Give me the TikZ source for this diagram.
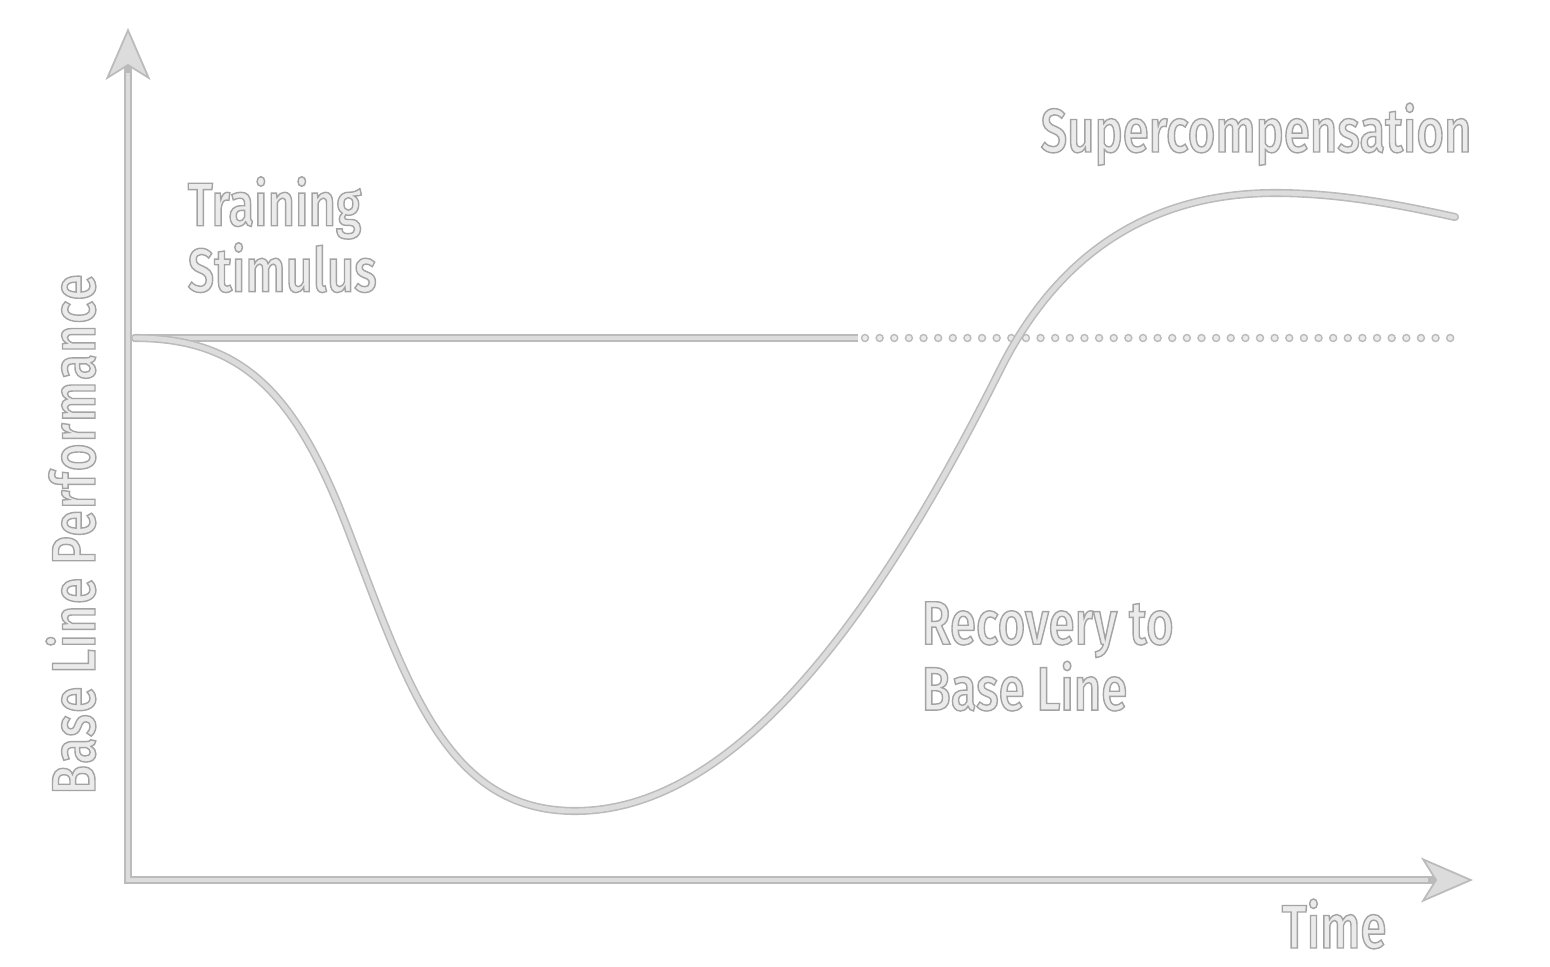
\documentclass[tikz,border=0pt]{standalone}
\usepackage{fontspec}
\setmainfont{Fira Sans}[FakeStretch=0.77, BoldFont={Fira Sans Medium}]
\usetikzlibrary{arrows.meta, calc}

\definecolor{railfill}{HTML}{DCDCDC}
\definecolor{railedge}{HTML}{BBBBBB}
\definecolor{inkfill}{HTML}{EBEBEB}
\definecolor{inkedge}{HTML}{A6A6A6}

% outlined lettering (fill + stroke)
\newcommand{\hollow}{\special{pdf:literal direct 2 Tr 0.4 w 0.64 0.64 0.64 RG}}
\newcommand{\hollowoff}{\special{pdf:literal direct 0 Tr}}

\begin{document}
\begin{tikzpicture}[
    lbl/.style={font=\fontsize{17.5}{17.4}\selectfont\bfseries, text=inkfill, inner sep=0pt, align=left,
                execute at end node=\hollowoff},
    rail/.style={line width=2.3pt, draw=railedge},
    railcore/.style={line width=1.4pt, draw=railfill},
    axistip/.style={-{Stealth[length=0.52cm, width=0.45cm, inset=0.14cm, fill=railfill, line width=0.5pt]}},
    dot/.style={draw=railedge, fill=inkfill, line width=0.4pt}]
    \useasboundingbox (0,0) rectangle (15.5,9.66);

    %--- axes ---
    \coordinate (O)    at (1.28,0.86);
    \coordinate (Ytip) at (1.28,9.38);
    \coordinate (Xtip) at (14.73,0.86);
    \draw[rail, axistip] ($(O)+(0,-0.04)$) -- (Ytip);
    \draw[rail, axistip] ($(O)+(-0.04,0)$) -- (Xtip);
    \draw[railcore] ($(O)+(0,-0.02)$) -- ($(Ytip)+(0,-0.45)$);
    \draw[railcore] ($(O)+(-0.02,0)$) -- ($(Xtip)+(-0.45,0)$);

    %--- base line: solid part, then dotted part ---
    \coordinate (B0) at (1.33,6.28);
    \coordinate (B1) at (8.58,6.28);
    \draw[rail] (B0) -- (B1);
    \draw[railcore] (B0) -- (B1);
    \foreach \i in {0,...,40}
        \draw[dot] ($(B1)+(0.07+\i*0.1463,0)$) circle (0.035);

    %--- performance curve: drop, low point, recovery, peak ---
    \coordinate (C0) at (1.35,6.28);
    \coordinate (C1) at (3.47,4.39);
    \coordinate (C2) at (5.75,1.55);
    \coordinate (C3) at (10.00,5.96);
    \coordinate (C4) at (12.75,7.73);
    \coordinate (C5) at (14.55,7.49);
    \def\curvepath{(C0) .. controls (2.45,6.28) and (2.97,5.69) .. (C1)
        .. controls (4.07,2.83) and (4.45,1.55) .. (C2)
        .. controls (7.30,1.55) and (8.70,3.36) .. (C3)
        .. controls (10.65,7.26) and (11.65,7.73) .. (C4)
        .. controls (13.40,7.73) and (14.00,7.61) .. (C5)}
    \draw[rail, line cap=round] \curvepath;
    \draw[railcore, line cap=round] \curvepath;

    %--- labels ---
    \node (stim) [lbl, anchor=north west] at (1.87,7.90) {\hollow Training\\\hollow Stimulus};
    \node (super) [lbl, anchor=base west] at (10.40,8.14) {\hollow Supercompensation};
    \node (recov) [lbl, anchor=north west] at (9.21,3.65) {\hollow Recovery to\\\hollow Base Line};
    \node (time) [lbl, anchor=base west] at (12.81,0.18) {\hollow Time};
    \node (perf) [lbl, rotate=90, anchor=base west] at (0.95,1.71)
        {\addfontfeatures{LetterSpace=2.5}\hollow Base Line Performance};
\end{tikzpicture}
\end{document}
